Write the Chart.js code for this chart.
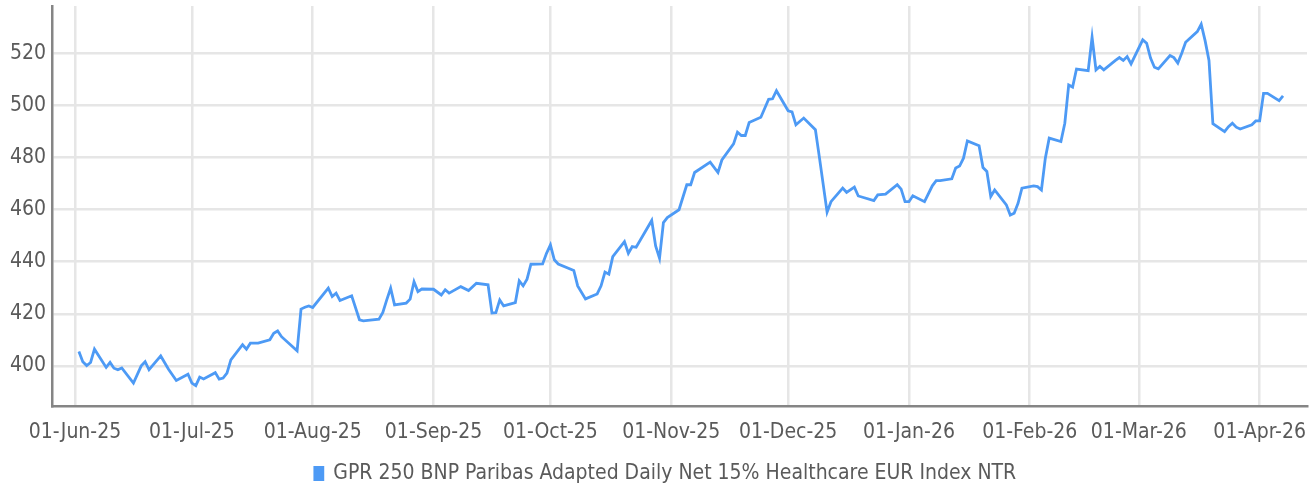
<!DOCTYPE html>
<html>
<head>
<meta charset="utf-8">
<script src="https://cdn.jsdelivr.net/npm/chart.js@4.4.1/dist/chart.umd.min.js"></script>
<style>
html, body { margin: 0; padding: 0; background: #fff; }
</style>
</head>
<body>
<canvas id="chart" width="1316" height="491"></canvas>
<script>
// x values are days counted from 01-Jun-25
const days = [
  1, 2, 3, 4, 5, 8, 9, 10, 11, 12, 15, 17, 18, 19, 22, 24, 26, 29, 30, 31, 32, 33,
  36, 37, 38, 39, 40, 43, 44, 45, 47, 50, 51, 52, 53, 57, 58, 59, 60, 61,
  65, 66, 67, 68, 71, 73, 74, 78, 79, 80, 81, 82, 85, 86, 87, 88, 89,
  92, 94, 95, 96, 99, 101, 103, 106, 107, 108, 109, 110, 113, 114, 115, 116, 117, 120, 121,
  122, 123, 124, 128, 129, 131, 134, 135, 136, 137, 138, 141, 142, 143, 144, 148, 149, 150, 151, 152,
  155, 157, 158, 159, 163, 165, 166, 169, 170, 171, 172, 173, 176, 178, 179, 180,
  183, 184, 185, 187, 190, 191, 193, 194, 197, 198, 200, 201, 205, 206, 208, 211, 212, 213,
  214, 215, 218, 220, 221, 222, 225, 226, 227, 228, 229, 232, 233, 234, 235, 236, 239, 240, 241, 242, 243,
  246, 247, 248, 249, 250, 253, 254, 255, 256, 257, 260, 261, 262, 263, 264, 267, 268, 269, 270, 271,
  274, 275, 276, 277, 278, 281, 282, 283, 284, 285, 288, 289, 290, 291, 292, 295, 296, 297, 298, 299, 302, 303,
  304, 305, 306, 309, 310
];
const values = [
  405.5, 401.6, 400.1, 401.3, 406.4, 399.4, 401.3, 399.1, 398.5, 399.2, 393.4, 400.0, 401.6, 398.5, 403.8, 398.7, 394.4, 396.8, 393.4, 392.4, 395.7, 395.0,
  397.4, 394.9, 395.3, 397.2, 402.3, 408.1, 406.4, 408.7, 408.7, 410.0, 412.5, 413.4, 411.2, 405.8, 421.8, 422.5, 423.0, 422.4,
  429.8, 426.6, 427.9, 425.1, 426.9, 417.7, 417.3, 417.9, 420.5, 425.3, 429.8, 423.4, 424.1, 425.6, 432.3, 428.5, 429.5,
  429.4, 427.2, 429.2, 427.9, 430.4, 428.9, 431.7, 431.1, 420.3, 420.4, 425.3, 423.0, 424.3, 432.6, 430.7, 433.3, 439.0, 439.1, 443.2,
  446.4, 440.7, 439.1, 436.6, 430.7, 425.7, 427.6, 430.7, 436.0, 435.2, 441.9, 447.7, 443.2, 445.8, 445.5, 455.8, 446.0, 441.3, 455.0, 456.9,
  459.9, 469.5, 469.5, 474.2, 478.2, 474.2, 479.0, 485.2, 489.7, 488.4, 488.4, 493.4, 495.4, 502.3, 502.5, 505.6,
  497.9, 497.5, 492.5, 495.1, 490.6, 480.3, 459.0, 463.0, 468.2, 466.6, 468.6, 465.2, 463.4, 465.6, 465.9, 469.5, 467.8, 463.0,
  463.0, 465.3, 463.0, 469.1, 471.1, 471.1, 471.8, 475.9, 476.7, 479.7, 486.3, 484.5, 476.1, 474.6, 465.0, 467.5, 461.8, 457.9, 458.6, 462.4, 468.2,
  469.1, 468.8, 467.5, 479.7, 487.4, 486.1, 493.1, 507.8, 507.0, 513.9, 513.3, 526.1, 513.6, 514.9, 513.6, 517.2, 518.3, 517.2, 518.7, 515.9,
  525.1, 523.8, 518.1, 514.6, 514.0, 519.1, 518.3, 516.2, 520.0, 524.2, 528.3, 531.1, 524.8, 517.2, 492.9, 489.9, 491.8, 493.1, 491.6, 490.9, 492.5, 494.0,
  494.0, 504.6, 504.6, 501.8, 503.6
];
const tickDays = [0, 30, 61, 92, 122, 153, 183, 214, 245, 273, 304];
const tickLabels = [
  "01-Jun-25", "01-Jul-25", "01-Aug-25", "01-Sep-25", "01-Oct-25", "01-Nov-25",
  "01-Dec-25", "01-Jan-26", "01-Feb-26", "01-Mar-26", "01-Apr-26"
];
const seriesName = "GPR 250 BNP Paribas Adapted Daily Net 15% Healthcare EUR Index NTR";

const lineColor = "#4d9af5";
const textColor = "#5a5a5a";
const gridColor = "#e6e6e6";
const axisColor = "#858585";

Chart.defaults.font.family = "'Liberation Sans Narrow', 'DejaVu Sans Condensed', 'Roboto', sans-serif";
Chart.defaults.font.size = 21;
Chart.defaults.color = textColor;

// nudge the legend to where it sits in the original
const legendShift = {
  id: "legendShift",
  afterLayout(chart) {
    const lg = chart.legend;
    lg.left += 12; lg.right += 12;
    lg.top += 3; lg.bottom += 3;
  }
};

new Chart(document.getElementById("chart"), {
  type: "line",
  data: {
    datasets: [{
      label: seriesName,
      data: days.map((d, i) => ({ x: d, y: values[i] })),
      borderColor: lineColor,
      backgroundColor: lineColor,
      borderWidth: 2.8,
      pointRadius: 0,
      tension: 0,
      fill: false
    }]
  },
  plugins: [legendShift],
  options: {
    responsive: false,
    animation: false,
    layout: { padding: { left: 0, right: 9, top: 6, bottom: 0 } },
    plugins: {
      tooltip: { enabled: false },
      legend: {
        position: "bottom",
        labels: { boxWidth: 8, boxHeight: 12, padding: 5, color: textColor }
      }
    },
    scales: {
      x: {
        type: "linear",
        min: -5.9,
        max: 316.15,
        afterBuildTicks: (s) => { s.ticks = tickDays.map(v => ({ value: v })); },
        afterFit: (s) => { s.height = 49; s.paddingLeft = 0; s.paddingRight = 0; },
        ticks: {
          autoSkip: false,
          maxRotation: 0,
          padding: 14,
          callback: (v) => tickLabels[tickDays.indexOf(v)]
        },
        grid: { color: gridColor, lineWidth: 2.5, drawTicks: false },
        border: { color: axisColor, width: 2.5 }
      },
      y: {
        min: 384.6,
        max: 538.1,
        afterBuildTicks: (s) => { s.ticks = s.ticks.filter(t => t.value % 20 === 0); },
        afterFit: (s) => { s.width = 52; s.paddingTop = 0; s.paddingBottom = 0; },
        ticks: { stepSize: 20, padding: 6 },
        grid: { color: gridColor, lineWidth: 2.5, drawTicks: false },
        border: { color: axisColor, width: 2.5 }
      }
    }
  }
});
</script>
</body>
</html>
